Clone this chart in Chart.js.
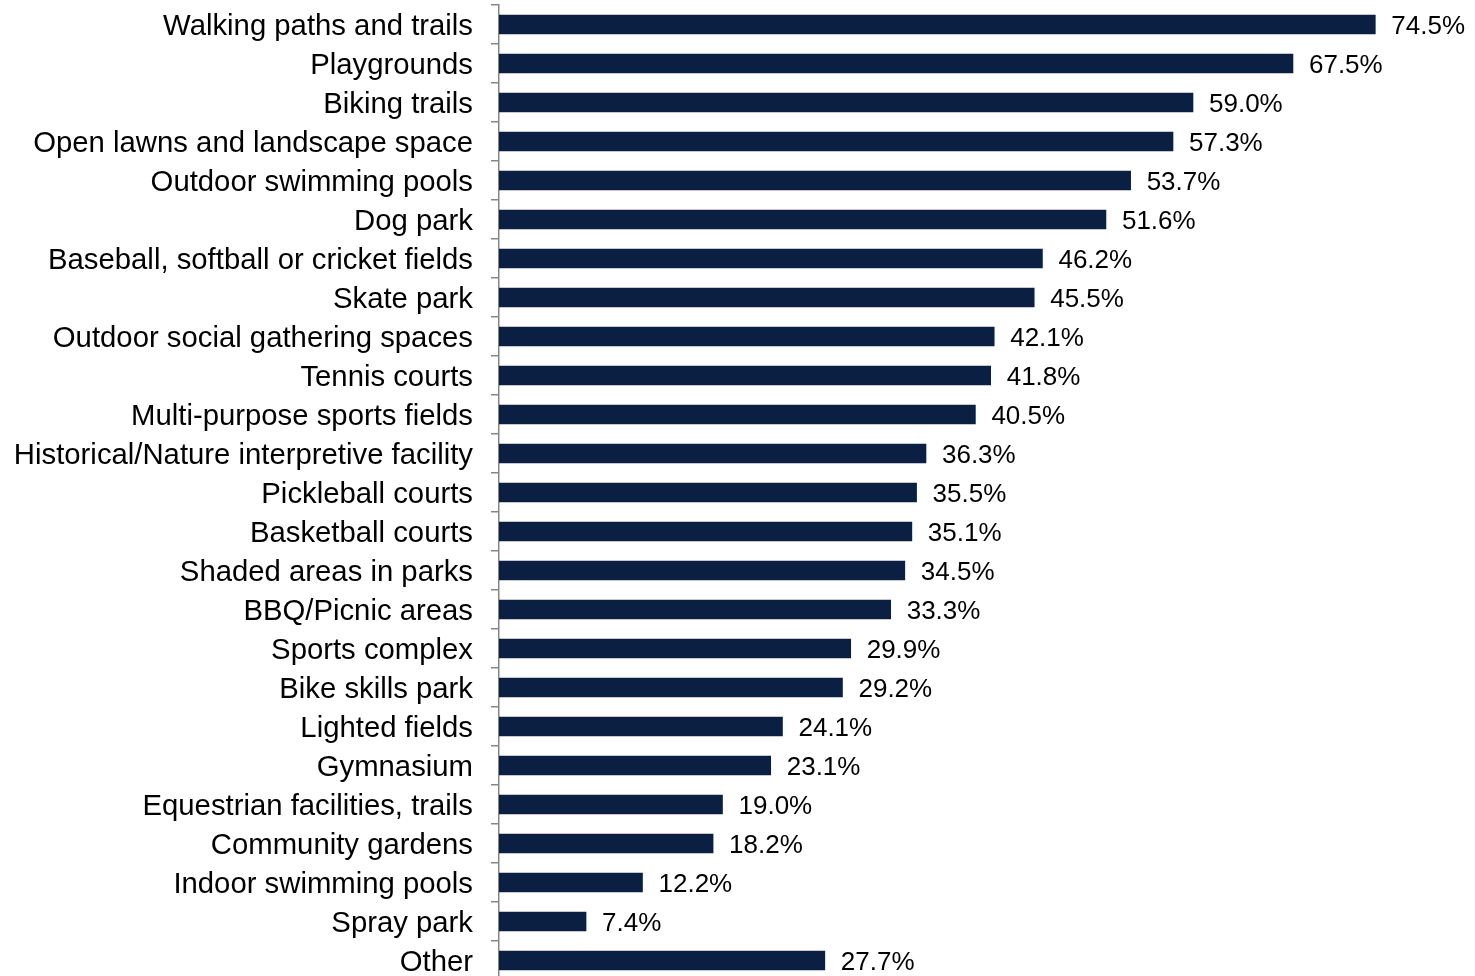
<!DOCTYPE html>
<html>
<head>
<meta charset="utf-8">
<script src="https://cdn.jsdelivr.net/npm/chart.js@4"></script>
<style>
    html, body { margin: 0; padding: 0; background: #ffffff; overflow: hidden; }
    #wrap { width: 1475px; height: 990px; }
</style>
</head>
<body>
<div id="wrap"><canvas id="grafico-amenidades"></canvas></div>
<script>
// Categorias e valores (%)
const categorias = [
    "Walking paths and trails",
    "Playgrounds",
    "Biking trails",
    "Open lawns and landscape space",
    "Outdoor swimming pools",
    "Dog park",
    "Baseball, softball or cricket fields",
    "Skate park",
    "Outdoor social gathering spaces",
    "Tennis courts",
    "Multi-purpose sports fields",
    "Historical/Nature interpretive facility",
    "Pickleball courts",
    "Basketball courts",
    "Shaded areas in parks",
    "BBQ/Picnic areas",
    "Sports complex",
    "Bike skills park",
    "Lighted fields",
    "Gymnasium",
    "Equestrian facilities, trails",
    "Community gardens",
    "Indoor swimming pools",
    "Spray park",
    "Other"
];
const valores = [74.5, 67.5, 59.0, 57.3, 53.7, 51.6, 46.2, 45.5, 42.1, 41.8, 40.5, 36.3, 35.5, 35.1, 34.5, 33.3, 29.9, 29.2, 24.1, 23.1, 19.0, 18.2, 12.2, 7.4, 27.7];

const fonte = "'Liberation Sans', Arial, sans-serif";

// Rótulos de valor no fim de cada barra
const rotulosPlugin = {
    id: "rotulos",
    afterDatasetsDraw(chart) {
        const ctx = chart.ctx;
        const meta = chart.getDatasetMeta(0);
        ctx.save();
        ctx.font = "26px " + fonte;
        ctx.fillStyle = "#000000";
        ctx.textAlign = "left";
        ctx.textBaseline = "middle";
        meta.data.forEach((bar, i) => {
            ctx.fillText(valores[i].toFixed(1) + "%", bar.x + 16, bar.y + 2);
        });
        ctx.restore();
    }
};

new Chart(document.getElementById("grafico-amenidades"), {
    type: "bar",
    data: {
        labels: categorias,
        datasets: [{
            data: valores,
            backgroundColor: "#0b1f42",
            borderWidth: 0,
            barThickness: 19
        }]
    },
    options: {
        indexAxis: "y",
        responsive: true,
        maintainAspectRatio: false,
        animation: false,
        layout: { padding: { top: 5, bottom: 10, left: 0, right: 35 } },
        plugins: {
            legend: { display: false },
            tooltip: { enabled: false }
        },
        scales: {
            x: {
                display: false,
                min: 0,
                max: 80
            },
            y: {
                afterFit(scale) {
                    scale.width = 499;
                    scale.paddingTop = 0;
                    scale.paddingBottom = 0;
                },
                border: { display: true, color: "#868686", width: 1.5 },
                grid: {
                    drawOnChartArea: false,
                    drawTicks: true,
                    tickLength: 8,
                    color: "#868686",
                    lineWidth: 1.5
                },
                ticks: {
                    color: "#000000",
                    padding: 18,
                    labelOffset: 2,
                    font: { family: fonte, size: 29.3 }
                }
            }
        }
    },
    plugins: [rotulosPlugin]
});
</script>
</body>
</html>
